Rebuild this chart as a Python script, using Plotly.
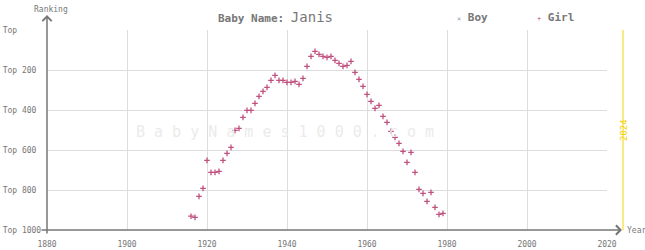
import plotly.graph_objects as go

# ---- data ----
girl_years = [1916, 1917, 1918, 1919, 1920, 1921, 1922, 1923, 1924, 1925, 1926,
              1927, 1928, 1929, 1930, 1931, 1932, 1933, 1934, 1935, 1936, 1937,
              1938, 1939, 1940, 1941, 1942, 1943, 1944, 1945, 1946, 1947, 1948,
              1949, 1950, 1951, 1952, 1953, 1954, 1955, 1956, 1957, 1958, 1959,
              1960, 1961, 1962, 1963, 1964, 1965, 1966, 1967, 1968, 1969, 1970,
              1971, 1972, 1973, 1974, 1975, 1976, 1977, 1978, 1979]
girl_ranks = [931, 937, 832, 792, 652, 712, 712, 707, 652, 617, 587,
              502, 492, 437, 402, 402, 367, 332, 307, 287, 252, 227,
              252, 252, 262, 262, 257, 272, 242, 182, 132, 107, 122,
              132, 137, 132, 152, 167, 182, 177, 157, 212, 247, 282,
              322, 357, 392, 377, 432, 462, 507, 537, 567, 607, 662,
              612, 712, 797, 817, 857, 812, 887, 922, 917]
boy_years = []
boy_ranks = []

x_ticks = [1880, 1900, 1920, 1940, 1960, 1980, 2000, 2020]
y_ticks = [0, 200, 400, 600, 800, 1000]
y_tick_labels = ["Top", "Top 200", "Top 400", "Top 600", "Top 800", "Top 1000"]
current_year = 2024
name = "Janis"

X0, X1 = 1880, 2020
MONO = "DejaVu Sans Mono"
GREY = "#777777"
GIRL_C = "#c0507f"
BOY_C = "#8a9ab5"

fig = go.Figure()
fig.add_trace(go.Scatter(x=boy_years, y=boy_ranks, mode="markers", name="Boy",
                         marker=dict(symbol="x-thin", size=3, line=dict(width=1, color=BOY_C))))
fig.add_trace(go.Scatter(x=girl_years, y=girl_ranks, mode="markers", name="Girl",
                         marker=dict(symbol="cross-thin", size=4, line=dict(width=1.3, color=GIRL_C))))

pad = "\u00a0"
ytxt = [(t + pad * (8 - len(t))).replace(" ", pad) + pad for t in y_tick_labels]

fig.update_layout(
    width=645, height=250,
    margin=dict(l=47, r=38, t=30, b=20, autoexpand=False),
    plot_bgcolor="white", paper_bgcolor="white",
    showlegend=False,
    font=dict(family=MONO, size=8, color=GREY),
    xaxis=dict(range=[X0, X1], tickvals=x_ticks, showgrid=True, gridcolor="#dddddd",
               gridwidth=1, zeroline=False, showline=False, ticks="outside", ticklen=6,
               automargin=False,
               tickcolor="rgba(0,0,0,0)", tickfont=dict(family=MONO, size=8, color=GREY)),
    yaxis=dict(range=[1000, 0], tickvals=y_ticks, ticktext=ytxt, showgrid=True,
               gridcolor="#dddddd", gridwidth=1, zeroline=False, showline=False,
               automargin=False,
               ticks="", tickfont=dict(family=MONO, size=8, color=GREY)),
)

def px_x(p):
    return (p - 47) / 560.0

def px_y(p):
    return (230 - p) / 200.0

yr_pos = (current_year - X0) / (X1 - X0)

# current year line
fig.add_shape(type="line", xref="paper", yref="paper", x0=yr_pos, x1=yr_pos, y0=0, y1=1,
              line=dict(color="#f5d20a", width=1))
fig.add_annotation(xref="paper", yref="paper", x=yr_pos + 8 / 560, y=0.5, text=str(current_year),
                   textangle=-90, showarrow=False, font=dict(family=MONO, size=9, color="#f5d20a"))

# axis arrows
fig.add_annotation(xref="paper", yref="paper", x=px_x(622), y=0, ax=-582, ay=0,
                   text="", showarrow=True, arrowhead=4, arrowsize=1.2, arrowwidth=1.5,
                   arrowcolor=GREY, standoff=0)
fig.add_annotation(xref="paper", yref="paper", x=0, y=px_y(15), ax=0, ay=220,
                   text="", showarrow=True, arrowhead=4, arrowsize=1.2, arrowwidth=1.5,
                   arrowcolor=GREY, standoff=0)

fig.add_annotation(xref="paper", yref="paper", x=px_x(32), y=px_y(9), text="Ranking",
                   showarrow=False, xanchor="left", yanchor="middle",
                   font=dict(family=MONO, size=8, color=GREY))
fig.add_annotation(xref="paper", yref="paper", x=px_x(625), y=px_y(230), text="Year",
                   showarrow=False, xanchor="left", yanchor="middle",
                   font=dict(family=MONO, size=8, color=GREY))

# title
fig.add_annotation(xref="paper", yref="paper", x=px_x(216), y=px_y(17),
                   text="<b>Baby Name:</b> <span style='font-size:14px'>" + name + "</span>",
                   showarrow=False, xanchor="left", yanchor="middle",
                   font=dict(family=MONO, size=11, color=GREY))

# legend
fig.add_annotation(xref="paper", yref="paper", x=px_x(455), y=px_y(17),
                   text="<span style='color:" + BOY_C + ";font-size:7px'>×</span> <b>Boy</b>",
                   showarrow=False, xanchor="left", yanchor="middle",
                   font=dict(family=MONO, size=11, color=GREY))
fig.add_annotation(xref="paper", yref="paper", x=px_x(535), y=px_y(17),
                   text="<span style='color:" + GIRL_C + ";font-size:7px'>+</span> <b>Girl</b>",
                   showarrow=False, xanchor="left", yanchor="middle",
                   font=dict(family=MONO, size=11, color=GREY))

# watermark
fig.add_annotation(xref="paper", yref="paper", x=px_x(285), y=px_y(132),
                   text=" ".join("BabyNames1000.com"), showarrow=False,
                   font=dict(family=MONO, size=15, color="#ebebeb"))

fig.write_html("out.html")
